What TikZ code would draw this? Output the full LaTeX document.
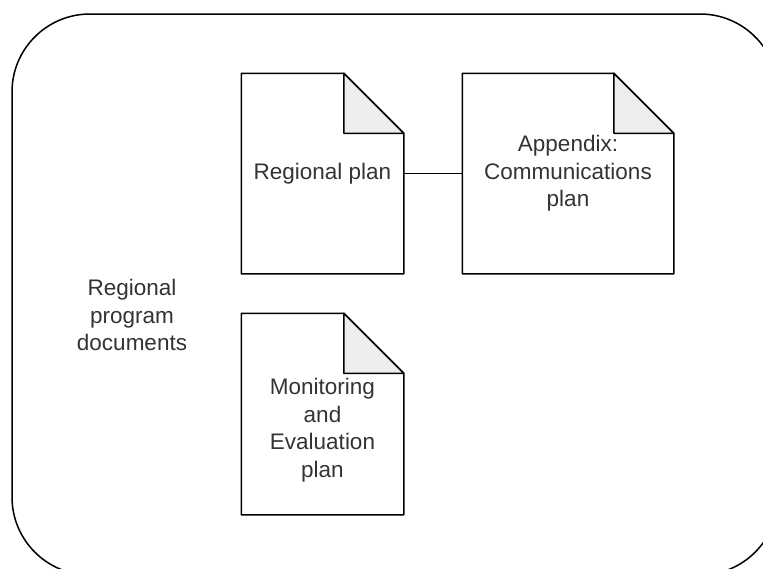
\documentclass[tikz,border=0pt]{standalone}
\usepackage{fontspec}
\setmainfont{Liberation Sans}
\usepackage{tikz}
\usetikzlibrary{positioning}
\tikzstyle{doc}=[inner sep=0pt,minimum width=161pt,minimum height=199pt,align=center,text=black!80]
\tikzstyle{fold}=[fill=black!7,line width=1.5pt,line join=round]

\begin{document}
\begin{tikzpicture}[x=1pt,y=-1pt,line width=1.5pt,font=\fontsize{22.5}{27.5}\selectfont]
    \tikzstyle{group}=[draw,rounded corners=78pt,minimum width=766pt,minimum height=561pt,inner sep=0pt]
    \tikzstyle{txt}=[align=center,text=black!80,inner sep=0pt]
    \useasboundingbox (0,0) rectangle (763,568);
    \clip (0,0) rectangle (763,568);
    \node[group] (grp) at (395,294.5) {};
    \node[txt] (grplabel) at (132,315) {Regional\\program\\documents};
    % the three documents
    \node[doc] (reg) at (322.5,173.5) {Regional plan};
    \node[doc,minimum width=210pt] (app) at (568,173.5) {Appendix:\\Communications\\plan};
    \node[doc,minimum height=200pt] (mon) at (322.5,414) {};
    \node[txt] (montxt) at ([yshift=-16pt]mon.center) {Monitoring\\and\\Evaluation\\plan};
    \foreach \d in {reg,app,mon}{
        \draw[line join=round] (\d.south west) |- ([xshift=-60pt]\d.north east)
            -- ([yshift=-60pt]\d.north east) |- cycle;
        \filldraw[fold] ([xshift=-60pt]\d.north east) |- ([yshift=-60pt]\d.north east) -- cycle;
    }
    \draw (reg) -- (app);
\end{tikzpicture}
\end{document}
